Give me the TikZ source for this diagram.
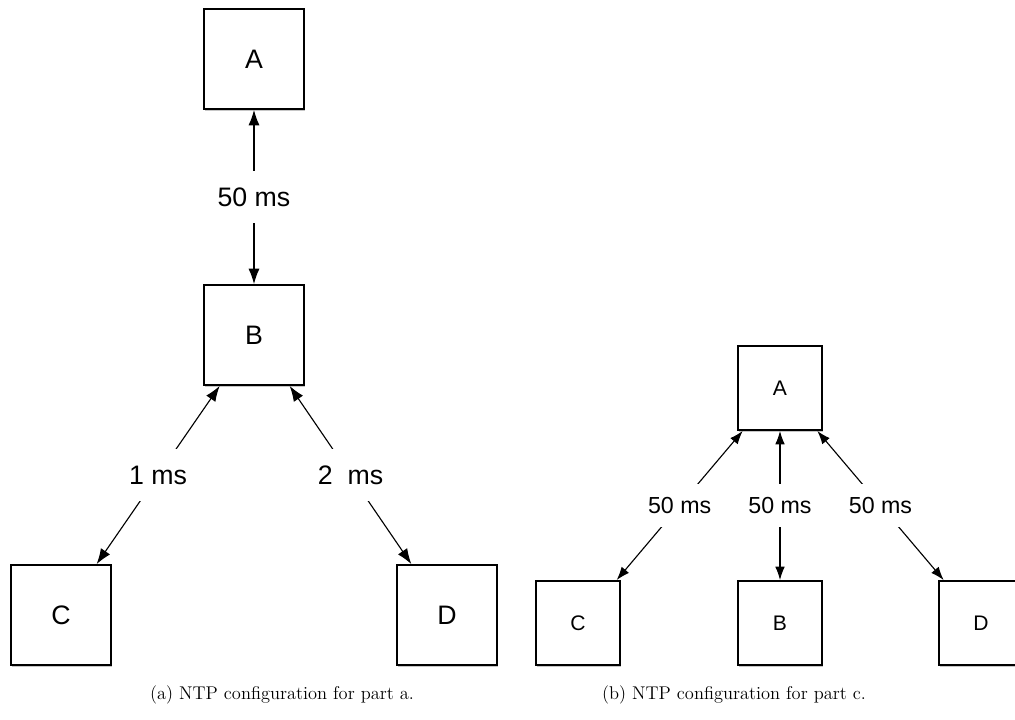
\documentclass[tikz,border=0pt]{standalone}
\usepackage{fontspec}
\newfontfamily\labelfont{Liberation Sans}
\usetikzlibrary{arrows.meta,shadows}

\tikzset{
  box/.style={draw, line width=1.3pt, fill=white, minimum size=#1, inner sep=0pt,
    drop shadow={shadow xshift=1pt, shadow yshift=-1.6pt, fill=black!50, opacity=0.45}},
  link/.style={<->, >={Latex[length=#1,width=0.72*#1]}, line width=0.8pt},
  lbl/.style={fill=white, inner xsep=2pt, inner ysep=#1},
  captext/.style={font=\fontsize{13.1}{16}\selectfont},
}

\begin{document}
\begin{tikzpicture}[x=0.025cm,y=-0.025cm]
\useasboundingbox (0,0) rectangle (1015,719);
% part a
\begin{scope}[font=\labelfont\fontsize{19}{23}\selectfont]
\node[box=2.5cm] (A1) at (254,59) {A};
\node[box=2.5cm] (B1) at (254,335) {B};
\node[box=2.5cm] (C1) at (61,615) {C};
\node[box=2.5cm] (D1) at (447,615) {D};
\draw[link=11pt] (A1.south) -- node[lbl=11.6pt] (lab1) {50 ms} (B1.north);
\draw[link=11pt] (B1.236) -- node[lbl=11.6pt] (lab2) {1 ms} (C1.55);
\draw[link=11pt] (B1.305) -- node[lbl=11.6pt] (lab3) {2\ \ ms} (D1.125);
\end{scope}
% part c
\begin{scope}[font=\labelfont\fontsize{15}{18}\selectfont]
\node[box=2.1cm] (A2) at (780,388) {A};
\node[box=2.1cm] (C2) at (578,623) {C};
\node[box=2.1cm] (B2) at (780,623) {B};
\node[box=2.1cm] (D2) at (981,623) {D};
\end{scope}
\begin{scope}[font=\labelfont\fontsize{16.5}{20}\selectfont]
\draw[link=9.5pt] (A2.229) -- node[lbl=9.3pt] (lab4) {50 ms} (C2.48);
\draw[link=9.5pt] (A2.south) -- node[lbl=9.3pt] (lab5) {50 ms} (B2.north);
\draw[link=9.5pt] (A2.311) -- node[lbl=9.3pt] (lab6) {50 ms} (D2.131);
\end{scope}
% captions
\node[captext] (capa) at (282,695) {(a) NTP configuration for part a.};
\node[captext] (capb) at (734,695) {(b) NTP configuration for part c.};
\end{tikzpicture}
\end{document}
